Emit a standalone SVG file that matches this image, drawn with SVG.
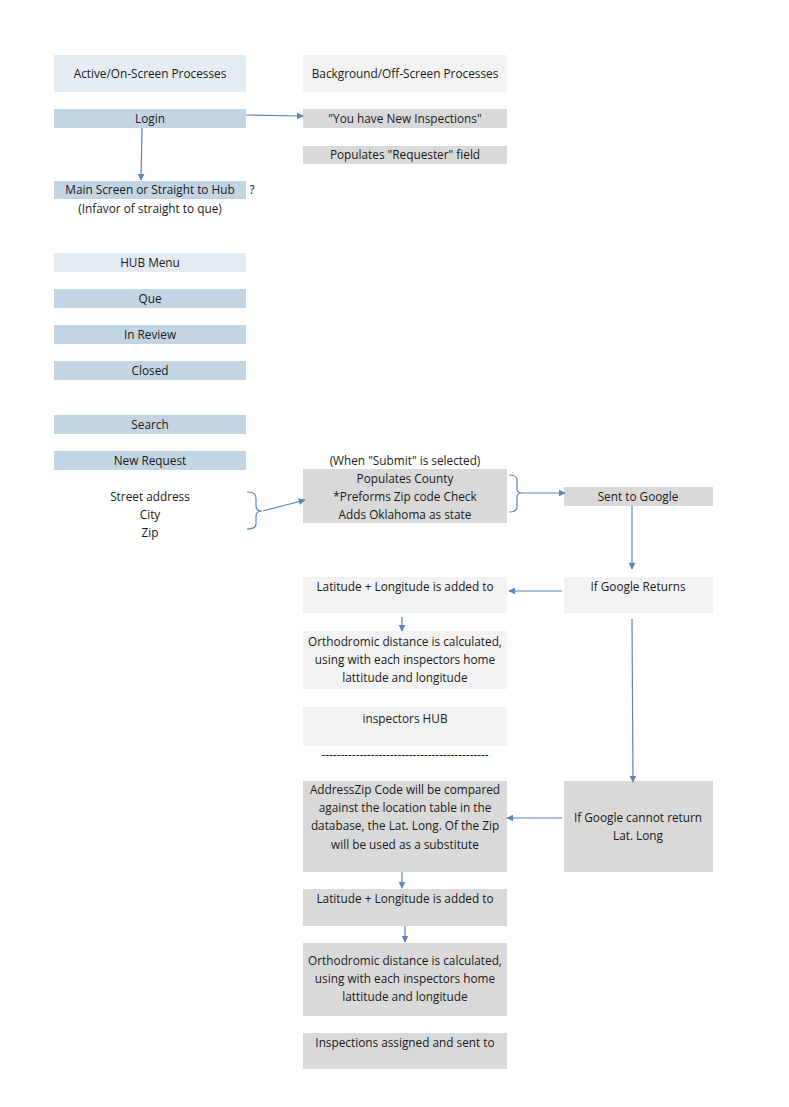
<svg xmlns="http://www.w3.org/2000/svg" width="789" height="1107" viewBox="0 0 789 1107">
<style>
text{font-family:"Open Sans","Liberation Sans",sans-serif;font-size:11.8px;fill:#1a1a1a;text-anchor:middle}
.lb{fill:#e4ebf3}.bl{fill:#c3d4e3}.gr{fill:#d9d9d9}.lg{fill:#f2f2f2}
.c{stroke:#5a86ba;stroke-width:1.2;fill:none}
.ca{stroke:#5a86ba;stroke-width:1.2;fill:none;marker-end:url(#ah)}
</style>
<defs>
<marker id="ah" viewBox="0 0 10 10" refX="9" refY="5" markerWidth="7" markerHeight="7" markerUnits="userSpaceOnUse" orient="auto">
<path d="M0,0 L10,5 L0,10 z" fill="#5a86ba"/>
</marker>
</defs>
<rect width="789" height="1107" fill="#ffffff"/>
<g id="active-header"><rect class="lb" x="54" y="55" width="192" height="37"/><text x="150" y="78">Active/On-Screen Processes</text></g>
<g id="background-header"><rect class="lg" x="303" y="55" width="204" height="37"/><text x="405" y="78">Background/Off-Screen Processes</text></g>
<g id="login"><rect class="bl" x="54" y="109" width="192" height="19"/><text x="150" y="123">Login</text></g>
<g id="new-inspections"><rect class="gr" x="303" y="109" width="204" height="19"/><text x="405" y="123">"You have New Inspections"</text></g>
<g id="requester"><rect class="gr" x="303" y="146" width="204" height="18"/><text x="405" y="159">Populates "Requester" field</text></g>
<g id="main-screen"><rect class="bl" x="54" y="181" width="192" height="18"/><text x="150" y="194">Main Screen or Straight to Hub</text><text x="252" y="194">?</text><text x="150" y="213">(Infavor of straight to que)</text></g>
<g id="hub-menu"><rect class="lb" x="54" y="253" width="192" height="19"/><text x="150" y="267">HUB Menu</text></g>
<g id="que"><rect class="bl" x="54" y="289" width="192" height="19"/><text x="150" y="303">Que</text></g>
<g id="in-review"><rect class="bl" x="54" y="325" width="192" height="19"/><text x="150" y="339">In Review</text></g>
<g id="closed"><rect class="bl" x="54" y="361" width="192" height="19"/><text x="150" y="375">Closed</text></g>
<g id="search"><rect class="bl" x="54" y="415" width="192" height="19"/><text x="150" y="429">Search</text></g>
<g id="new-request"><rect class="bl" x="54" y="451" width="192" height="19"/><text x="150" y="465">New Request</text></g>
<g id="address-fields"><text x="150" y="501">Street address</text><text x="150" y="519">City</text><text x="150" y="537">Zip</text></g>
<g id="submit"><text x="405" y="465">(When "Submit" is selected)</text><rect class="gr" x="303" y="469" width="204" height="54"/><text x="405" y="483">Populates County</text><text x="405" y="501">*Preforms Zip code Check</text><text x="405" y="519">Adds Oklahoma as state</text></g>
<g id="sent-google"><rect class="gr" x="564" y="487" width="149" height="19"/><text x="638" y="501">Sent to Google</text></g>
<g id="google-returns"><rect class="lg" x="564" y="577" width="149" height="36"/><text x="638" y="591">If Google Returns</text></g>
<g id="latlong-1"><rect class="lg" x="303" y="577" width="204" height="36"/><text x="405" y="591">Latitude + Longitude is added to</text></g>
<g id="ortho-1"><rect class="lg" x="303" y="631" width="204" height="58"/><text x="405" y="646">Orthodromic distance is calculated,</text><text x="405" y="664">using with each inspectors home</text><text x="405" y="682">lattitude and longitude</text></g>
<g id="inspectors-hub"><rect class="lg" x="303" y="707" width="204" height="39"/><text x="405" y="723">inspectors HUB</text></g>
<g id="divider"><text x="405" y="759">--------------------------------------------</text></g>
<g id="zip-fallback"><rect class="gr" x="303" y="781" width="204" height="91"/><text x="405" y="794">AddressZip Code will be compared</text><text x="405" y="812">against the location table in the</text><text x="405" y="830">database, the Lat. Long. Of the Zip</text><text x="405" y="849">will be used as a substitute</text></g>
<g id="google-fails"><rect class="gr" x="564" y="781" width="149" height="91"/><text x="638" y="822">If Google cannot return</text><text x="638" y="840">Lat. Long</text></g>
<g id="latlong-2"><rect class="gr" x="303" y="889" width="204" height="37"/><text x="405" y="903">Latitude + Longitude is added to</text></g>
<g id="ortho-2"><rect class="gr" x="303" y="943" width="204" height="73"/><text x="405" y="965">Orthodromic distance is calculated,</text><text x="405" y="983">using with each inspectors home</text><text x="405" y="1001">lattitude and longitude</text></g>
<g id="assigned"><rect class="gr" x="303" y="1033" width="204" height="36"/><text x="405" y="1047">Inspections assigned and sent to</text></g>
<g id="connectors">
<path class="ca" d="M246,115 L303,116"/>
<path class="ca" d="M142,128 L141,180"/>
<path class="c" d="M247,492 Q256,492 256,498 L256,506 Q256,511 262,511 Q256,511 256,516 L256,524 Q256,529 247,529"/>
<path class="ca" d="M263,511 L305,500"/>
<path class="c" d="M509,475 Q517,475 517,480 L517,489 Q517,493 522,493 Q517,493 517,497 L517,507 Q517,512 509,512"/>
<path class="ca" d="M522,493 L565,493"/>
<path class="ca" d="M632,506 L632,569"/>
<path class="ca" d="M562,591 L509,591"/>
<path class="ca" d="M402,617 L402,631"/>
<path class="ca" d="M632,619 L633,782"/>
<path class="ca" d="M562,818 L507,818"/>
<path class="ca" d="M402,872 L402,888"/>
<path class="ca" d="M405,926 L405,942"/>
</g>
</svg>
